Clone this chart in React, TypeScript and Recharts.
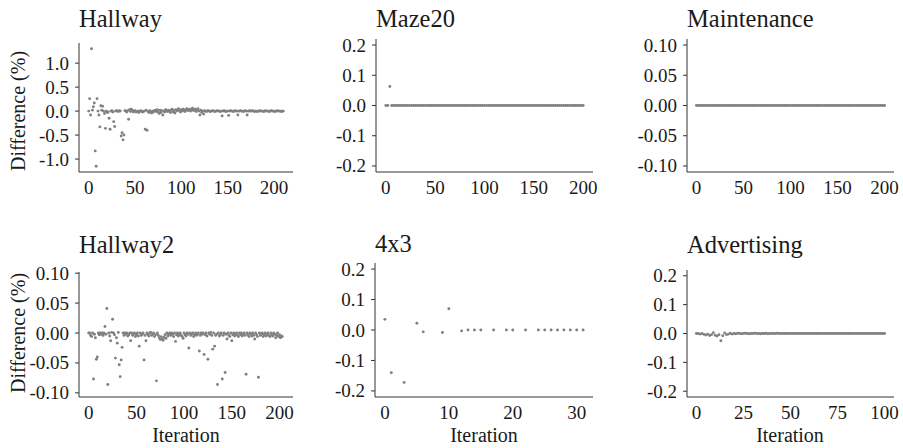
import { ScatterChart, Scatter, XAxis, YAxis } from 'recharts'

// one value per iteration unless a step is given below
const hallwayDiff = [
  0, 0.26, -0.08, 1.3, 0.02, 0.09, 0.17, -0.83, -1.15, 0.26,
  0, -0.08, -0.33, 0.11, 0.02, 0.1, 0, -0.05, -0.36, 0,
  -0.03, -0.02, -0.15, -0.38, 0, 0.01, -0.02, -0.22, -0.32, 0,
  0.01, 0, -0.01, 0.01, 0, -0.52, -0.45, -0.6, -0.5, 0.01,
  0, -0.02, 0.01, -0.17, 0.03, -0.01, 0.04, 0.02, -0.02, 0,
  0.01, -0.02, -0.01, 0, -0.03, -0.01, 0.01, 0, -0.02, -0.01,
  0, -0.38, 0.02, -0.4, -0.01, -0.03, 0.01, -0.02, -0.04, 0,
  -0.02, 0.01, 0.02, -0.01, 0.03, -0.02, -0.05, 0.02, -0.03, 0.01,
  -0.08, 0, -0.02, 0.03, 0.01, -0.01, 0.02, 0, -0.03, 0.02,
  0.04, -0.02, 0.01, -0.04, 0.03, 0, 0.02, 0.05, 0.01, -0.02,
  0.03, 0, 0.04, 0.02, -0.01, 0.03, 0.05, 0.01, 0.02, 0.04,
  0, 0.03, 0.06, 0.01, 0.02, 0.04, -0.01, 0.03, 0.05, 0,
  -0.08, 0.02, -0.03, 0, -0.06, 0.01, 0, -0.01, 0, 0.01,
  0, -0.01, 0, 0, 0.01, 0, -0.01, 0, 0, 0.01,
  0, 0, -0.01, 0, -0.1, 0, 0.01, 0, -0.01, 0,
  0, -0.09, 0, 0.01, 0, 0, -0.01, 0, 0.01, 0,
  0, -0.08, 0, 0, 0.01, 0, 0, -0.01, 0, 0.01,
  0, -0.08, 0, 0, 0.01, 0, 0, 0.01, 0, -0.01,
  0, 0, -0.01, 0, 0, 0.01, 0, 0, 0, -0.01,
  0, 0.01, 0, 0, 0, -0.01, 0, 0.01, 0, 0,
  0, -0.01, 0, 0, 0.01, 0, 0, 0, -0.01, 0,
  0,
]

// every second iteration
const maze20Diff = [
  0, 0, 0.063, 0, 0, 0, 0, 0, 0, 0,
  0, 0, 0, 0, 0, 0, 0, 0, 0, 0,
  0, 0, 0, 0, 0, 0, 0, 0, 0, 0,
  0, 0, 0, 0, 0, 0, 0, 0, 0, 0,
  0, 0, 0, 0, 0, 0, 0, 0, 0, 0,
  0, 0, 0, 0, 0, 0, 0, 0, 0, 0,
  0, 0, 0, 0, 0, 0, 0, 0, 0, 0,
  0, 0, 0, 0, 0, 0, 0, 0, 0, 0,
  0, 0, 0, 0, 0, 0, 0, 0, 0, 0,
  0, 0, 0, 0, 0, 0, 0, 0, 0, 0,
  0,
]

// every second iteration
const maintenanceDiff = [
  0, 0, 0, 0, 0, 0, 0, 0, 0, 0,
  0, 0, 0, 0, 0, 0, 0, 0, 0, 0,
  0, 0, 0, 0, 0, 0, 0, 0, 0, 0,
  0, 0, 0, 0, 0, 0, 0, 0, 0, 0,
  0, 0, 0, 0, 0, 0, 0, 0, 0, 0,
  0, 0, 0, 0, 0, 0, 0, 0, 0, 0,
  0, 0, 0, 0, 0, 0, 0, 0, 0, 0,
  0, 0, 0, 0, 0, 0, 0, 0, 0, 0,
  0, 0, 0, 0, 0, 0, 0, 0, 0, 0,
  0, 0, 0, 0, 0, 0, 0, 0, 0, 0,
  0,
]

const hallway2Diff = [
  0, 0, -0.004, -0.006, 0, -0.077, -0.002, -0.008, -0.044, -0.04,
  0, -0.003, 0, -0.002, 0, -0.004, 0, 0.011, -0.002, 0.041,
  -0.086, 0, -0.005, -0.013, 0.001, 0.023, 0, -0.003, -0.042, -0.008,
  -0.017, 0.001, -0.053, -0.073, -0.045, -0.024, 0, -0.004, 0, -0.002,
  0, -0.005, -0.003, 0, -0.013, 0, -0.004, -0.002, 0, -0.006,
  -0.003, 0, -0.005, -0.022, 0, -0.004, -0.002, 0, -0.045, -0.004,
  -0.013, 0, -0.002, -0.005, 0, 0.001, -0.004, -0.002, 0, -0.006,
  -0.003, -0.08, 0, -0.004, -0.008, -0.011, -0.006, -0.01, -0.012, -0.007,
  -0.003, -0.009, 0, -0.005, -0.002, 0, -0.004, 0, -0.002, -0.006,
  0, -0.014, -0.003, 0, -0.005, -0.002, 0, -0.004, -0.006, -0.009,
  0, -0.003, -0.005, 0, -0.002, -0.025, 0, -0.004, -0.002, 0,
  -0.006, -0.003, 0, -0.004, -0.002, 0, -0.03, -0.004, 0, -0.002,
  0, -0.036, -0.003, 0, -0.005, -0.044, 0, -0.002, 0.001, -0.004,
  -0.027, 0, -0.022, -0.004, -0.002, -0.086, 0, -0.005, -0.003, 0,
  -0.077, -0.004, 0, -0.066, -0.002, -0.01, 0, -0.004, -0.006, 0,
  -0.013, -0.003, 0, -0.005, -0.002, 0, -0.004, -0.006, 0, -0.003,
  0, -0.005, -0.002, 0, -0.004, -0.069, 0, -0.003, -0.006, 0,
  -0.002, -0.005, 0, -0.004, -0.01, 0, -0.003, -0.006, -0.074, 0,
  -0.004, -0.002, 0, -0.006, -0.003, 0, -0.005, -0.002, 0, -0.004,
  -0.006, 0, -0.003, -0.005, 0, -0.002, -0.008, -0.004, 0, -0.006,
  -0.003, -0.008, -0.005, -0.006,
]

const grid4x3Iter = [0, 1, 3, 5, 6, 9, 10, 12, 13, 14, 15, 17, 19, 20, 22, 24, 25, 26, 27, 28, 29, 30, 31]
const grid4x3Diff = [
  0.035, -0.14, -0.172, 0.022, -0.006, -0.008, 0.07, -0.003, 0, 0, 0, 0,
  0, 0, 0, 0, 0, 0, 0, 0, 0, 0, 0,
]

const advertisingDiff = [
  0, 0, -0.002, 0, -0.003, -0.005, -0.002, -0.007, -0.004, 0.003,
  -0.006, -0.009, -0.004, -0.025, -0.008, 0.002, -0.004, -0.002, 0.001, -0.002,
  0, -0.001, 0.001, 0, -0.001, 0, 0.001, 0, -0.001, 0,
  0, 0.001, 0, 0, -0.001, 0, 0, 0.001, -0.001, 0,
  0, 0, 0, 0.001, 0, 0, 0, 0, 0, 0,
  0, 0, 0, 0, 0, 0, 0, 0, 0, 0,
  0, 0, 0, 0, 0, 0, 0, 0, 0, 0,
  0, 0, 0, 0, 0, 0, 0, 0, 0, 0,
  0, 0, 0, 0, 0, 0, 0, 0, 0, 0,
  0, 0, 0, 0, 0, 0, 0, 0, 0, 0,
  0,
]

const ticks0to200 = [0, 50, 100, 150, 200]
const ticks0to30 = [0, 10, 20, 30]
const ticks0to100 = [0, 25, 50, 75, 100]
const ticksHallway = [-1, -0.5, 0, 0.5, 1]
const ticksPoint2 = [-0.2, -0.1, 0, 0.1, 0.2]
const ticksPoint1 = [-0.1, -0.05, 0, 0.05, 0.1]

const W = 903
const H = 448
const Y_AXIS_W = 60
const X_AXIS_H = 30
const FONT = "'Liberation Serif', 'Times New Roman', Times, serif"
const INK = '#1a1a1a'
const AXIS = '#333333'
const DOT = '#808080'

type Point = { iteration: number; diff: number }

const byStep = (values: number[], step: number): Point[] =>
  values.map((v, i) => ({ iteration: i * step, diff: v }))

const zipPoints = (iters: number[], values: number[]): Point[] =>
  iters.map((it, i) => ({ iteration: it, diff: values[i] }))

interface Box {
  left: number
  right: number
  top: number
  bottom: number
}

interface PanelProps {
  title: string
  titleY: number
  points: Point[]
  box: Box
  xDomain: [number, number]
  xTicks: number[]
  yDomain: [number, number]
  yTicks: number[]
  digits: number
}

const panels: PanelProps[] = [
  {
    title: 'Hallway',
    titleY: 27,
    points: byStep(hallwayDiff, 1),
    box: { left: 79, right: 293, top: 43, bottom: 172 },
    xDomain: [-10.5, 220.5],
    xTicks: ticks0to200,
    yDomain: [-1.27, 1.42],
    yTicks: ticksHallway,
    digits: 1,
  },
  {
    title: 'Maze20',
    titleY: 27,
    points: byStep(maze20Diff, 2),
    box: { left: 376, right: 593, top: 39, bottom: 172 },
    xDomain: [-10, 210],
    xTicks: ticks0to200,
    yDomain: [-0.22, 0.22],
    yTicks: ticksPoint2,
    digits: 1,
  },
  {
    title: 'Maintenance',
    titleY: 27,
    points: byStep(maintenanceDiff, 2),
    box: { left: 687, right: 894, top: 39, bottom: 172 },
    xDomain: [-10, 210],
    xTicks: ticks0to200,
    yDomain: [-0.11, 0.11],
    yTicks: ticksPoint1,
    digits: 2,
  },
  {
    title: 'Hallway2',
    titleY: 253,
    points: byStep(hallway2Diff, 1),
    box: { left: 79, right: 293, top: 272, bottom: 397 },
    xDomain: [-10.2, 214.2],
    xTicks: ticks0to200,
    yDomain: [-0.107, 0.102],
    yTicks: ticksPoint1,
    digits: 2,
  },
  {
    title: '4x3',
    titleY: 252,
    points: zipPoints(grid4x3Iter, grid4x3Diff),
    box: { left: 375, right: 593, top: 263, bottom: 397 },
    xDomain: [-1.55, 32.55],
    xTicks: ticks0to30,
    yDomain: [-0.22, 0.22],
    yTicks: ticksPoint2,
    digits: 1,
  },
  {
    title: 'Advertising',
    titleY: 253,
    points: byStep(advertisingDiff, 1),
    box: { left: 687, right: 894, top: 270, bottom: 397 },
    xDomain: [-5, 105],
    xTicks: ticks0to100,
    yDomain: [-0.22, 0.22],
    yTicks: ticksPoint2,
    digits: 1,
  },
]

interface TickProps {
  x?: number
  y?: number
  payload?: { value: number }
}

const tickTextStyle = { fontFamily: FONT, fontSize: 19, fill: INK }

function renderXTick({ x = 0, y = 0, payload }: TickProps) {
  return (
    <text x={x} y={y + 14} textAnchor="middle" style={tickTextStyle}>
      {payload?.value}
    </text>
  )
}

const yTickRenderer = (digits: number) =>
  function renderYTick({ x = 0, y = 0, payload }: TickProps) {
    return (
      <text x={x} y={y + 6.5} textAnchor="end" style={tickTextStyle}>
        {payload ? payload.value.toFixed(digits) : ''}
      </text>
    )
  }

function SmallDot(props: { cx?: number; cy?: number }) {
  if (props.cx == null || props.cy == null) return null
  return <circle cx={props.cx} cy={props.cy} r={1.45} fill={DOT} />
}

function DiffPanel({ points, box, xDomain, xTicks, yDomain, yTicks, digits }: PanelProps) {
  return (
    <div style={{ position: 'absolute', left: 0, top: 0, fontFamily: FONT }}>
      <ScatterChart
        width={W}
        height={H}
        margin={{
          top: box.top,
          left: box.left - Y_AXIS_W,
          right: W - box.right,
          bottom: H - box.bottom - X_AXIS_H,
        }}
      >
        <XAxis
          type="number"
          dataKey="iteration"
          domain={xDomain}
          ticks={xTicks}
          interval={0}
          allowDataOverflow
          height={X_AXIS_H}
          axisLine={{ stroke: AXIS, strokeWidth: 1 }}
          tickLine={false}
          tickSize={4}
          tickMargin={3.5}
          tick={renderXTick}
        />
        <YAxis
          type="number"
          dataKey="diff"
          domain={yDomain}
          ticks={yTicks}
          interval={0}
          allowDataOverflow
          width={Y_AXIS_W}
          axisLine={{ stroke: AXIS, strokeWidth: 1 }}
          tickLine={{ stroke: AXIS, strokeWidth: 1 }}
          tickSize={4}
          tickMargin={6}
          tick={yTickRenderer(digits)}
        />
        <Scatter data={points} fill={DOT} isAnimationActive={false} shape={<SmallDot />} />
      </ScatterChart>
    </div>
  )
}

export default function App() {
  return (
    <div
      style={{
        position: 'absolute',
        left: 0,
        top: 0,
        width: W,
        height: H,
        background: '#fff',
        fontFamily: FONT,
      }}
    >
      {panels.map((p) => (
        <DiffPanel key={p.title} {...p} />
      ))}
      <svg
        width={W}
        height={H}
        style={{ position: 'absolute', left: 0, top: 0, pointerEvents: 'none', fontFamily: FONT }}
        fill={INK}
      >
        {panels.map((p) => (
          <text key={p.title} x={p.box.left} y={p.titleY} fontSize={24.5}>
            {p.title}
          </text>
        ))}
        <text transform="translate(25,111) rotate(-90)" textAnchor="middle" fontSize={20}>
          Difference (%)
        </text>
        <text transform="translate(25,333) rotate(-90)" textAnchor="middle" fontSize={20}>
          Difference (%)
        </text>
        <text x={186} y={442} textAnchor="middle" fontSize={20}>
          Iteration
        </text>
        <text x={484} y={442} textAnchor="middle" fontSize={20}>
          Iteration
        </text>
        <text x={790} y={442} textAnchor="middle" fontSize={20}>
          Iteration
        </text>
      </svg>
    </div>
  )
}
